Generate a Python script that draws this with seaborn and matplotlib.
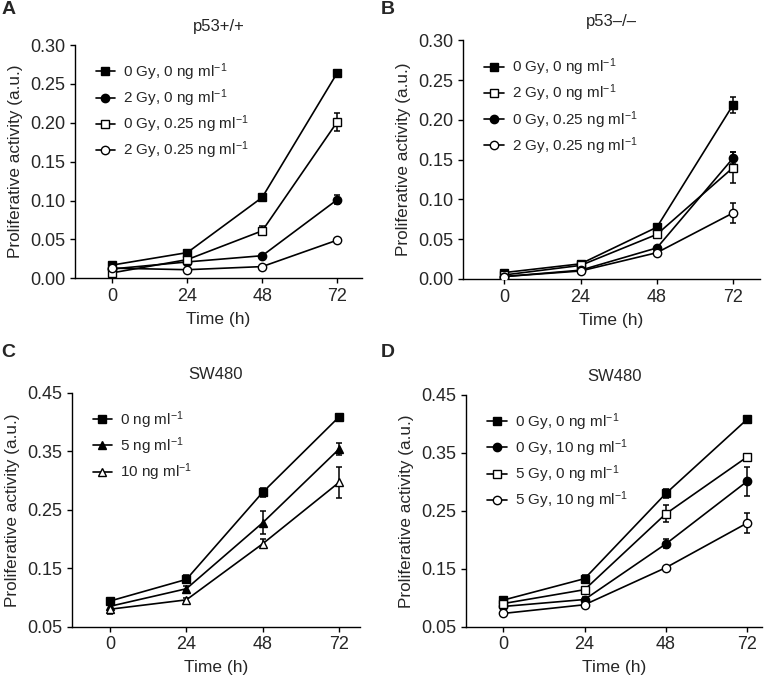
import numpy as np
import pandas as pd
import matplotlib
matplotlib.use("Agg")
import matplotlib.pyplot as plt
from matplotlib.ticker import FormatStrFormatter
import seaborn as sns

# data
time_h = [0, 24, 48, 72]

# panel A, p53+/+
a_labels = ["0 Gy, 0 ng ml$^{-1}$", "2 Gy, 0 ng ml$^{-1}$",
            "0 Gy, 0.25 ng ml$^{-1}$", "2 Gy, 0.25 ng ml$^{-1}$"]
a_means = [[0.017, 0.033, 0.104, 0.264],
           [0.012, 0.021, 0.029, 0.101],
           [0.007, 0.024, 0.061, 0.201],
           [0.013, 0.011, 0.015, 0.049]]
a_errs = [[0.002, 0.002, 0.005, 0.003],
          [0.001, 0.001, 0.002, 0.006],
          [0.001, 0.002, 0.006, 0.011],
          [0.001, 0.001, 0.002, 0.003]]

# panel B, p53-/-
b_labels = ["0 Gy, 0 ng ml$^{-1}$", "2 Gy, 0 ng ml$^{-1}$",
            "0 Gy, 0.25 ng ml$^{-1}$", "2 Gy, 0.25 ng ml$^{-1}$"]
b_means = [[0.008, 0.019, 0.065, 0.219],
           [0.005, 0.017, 0.056, 0.140],
           [0.003, 0.011, 0.039, 0.152],
           [0.003, 0.010, 0.033, 0.083]]
b_errs = [[0.001, 0.002, 0.003, 0.010],
          [0.001, 0.001, 0.004, 0.020],
          [0.001, 0.001, 0.003, 0.008],
          [0.001, 0.001, 0.002, 0.013]]

# panel C, SW480
c_labels = ["0 ng ml$^{-1}$", "5 ng ml$^{-1}$", "10 ng ml$^{-1}$"]
c_means = [[0.094, 0.131, 0.280, 0.409],
           [0.085, 0.115, 0.228, 0.354],
           [0.080, 0.096, 0.192, 0.297]]
c_errs = [[0.004, 0.007, 0.008, 0.005],
          [0.004, 0.004, 0.020, 0.010],
          [0.008, 0.003, 0.008, 0.027]]

# panel D, SW480
d_labels = ["0 Gy, 0 ng ml$^{-1}$", "0 Gy, 10 ng ml$^{-1}$",
            "5 Gy, 0 ng ml$^{-1}$", "5 Gy, 10 ng ml$^{-1}$"]
d_means = [[0.096, 0.133, 0.280, 0.408],
           [0.085, 0.097, 0.193, 0.301],
           [0.090, 0.114, 0.245, 0.343],
           [0.073, 0.088, 0.152, 0.229]]
d_errs = [[0.004, 0.007, 0.008, 0.005],
          [0.003, 0.004, 0.008, 0.025],
          [0.003, 0.004, 0.015, 0.003],
          [0.003, 0.004, 0.002, 0.017]]

sns.set_style("ticks")
plt.rcParams["font.family"] = ["Liberation Sans", "DejaVu Sans"]
plt.rcParams["mathtext.fontset"] = "custom"
plt.rcParams["mathtext.rm"] = "Liberation Sans"
plt.rcParams["mathtext.it"] = "Liberation Sans:italic"
plt.rcParams["mathtext.bf"] = "Liberation Sans:bold"

fig = plt.figure(figsize=(7.64, 6.82), dpi=100)


def panel(rect, title, labels, means, errs, styles, ylim, yticks, xlim):
    ax = fig.add_axes(rect)
    for lab, m, e, (mk, filled) in zip(labels, means, errs, styles):
        df = pd.DataFrame({"Time": time_h, "Value": m})
        ax.errorbar(time_h, m, yerr=e, fmt="none", ecolor="black",
                    elinewidth=1.1, capsize=2.5, capthick=1.1, zorder=1)
        sns.lineplot(data=df, x="Time", y="Value", ax=ax, color="black",
                     marker=mk, markersize=6, linewidth=1.2,
                     markerfacecolor="black" if filled else "white",
                     markeredgecolor="black", markeredgewidth=1.0,
                     label=lab, zorder=3)
    ax.set_xlim(*xlim)
    ax.set_ylim(*ylim)
    ax.set_xticks(time_h)
    ax.set_yticks(yticks)
    ax.yaxis.set_major_formatter(FormatStrFormatter("%.2f"))
    ax.set_xlabel("Time (h)", fontsize=12.5, labelpad=5)
    ax.set_ylabel("Proliferative activity (a.u.)", fontsize=12.3, labelpad=5)
    ax.set_title(title, fontsize=12, pad=10)
    ax.tick_params(labelsize=13, length=3.5, width=1, color="black", direction="out")
    for s in ["left", "bottom"]:
        ax.spines[s].set_linewidth(1.0)
        ax.spines[s].set_color("black")
    sns.despine(ax=ax)
    ax.legend(loc="upper left", bbox_to_anchor=(0.04, 0.97), frameon=False,
              fontsize=11, handlelength=1.3, handletextpad=0.5,
              labelspacing=0.3, borderaxespad=0.2)
    return ax


sq, sq_o, ci, ci_o = ("s", True), ("s", False), ("o", True), ("o", False)
tri, tri_o = ("^", True), ("^", False)

panel([0.098, 0.592, 0.376, 0.342], "p53+/+", a_labels, a_means, a_errs,
      [sq, ci, sq_o, ci_o], (0, 0.30), [0, 0.05, 0.10, 0.15, 0.20, 0.25, 0.30], (-12, 80))
panel([0.606, 0.591, 0.389, 0.350], "p53\u2013/\u2013", b_labels, b_means, b_errs,
      [sq, sq_o, ci, ci_o], (0, 0.30), [0, 0.05, 0.10, 0.15, 0.20, 0.25, 0.30], (-13, 80.5))
panel([0.094, 0.081, 0.377, 0.343], "SW480", c_labels, c_means, c_errs,
      [sq, tri, tri_o], (0.05, 0.45), [0.05, 0.15, 0.25, 0.35, 0.45], (-12, 78.5))
panel([0.610, 0.081, 0.388, 0.340], "SW480", d_labels, d_means, d_errs,
      [sq, ci, sq_o, ci_o], (0.05, 0.45), [0.05, 0.15, 0.25, 0.35, 0.45], (-11, 76.5))

for lx, ly, letter in [(0.002, 0.998, "A"), (0.498, 0.998, "B"),
                       (0.002, 0.495, "C"), (0.498, 0.495, "D")]:
    fig.text(lx, ly, letter, fontsize=14, fontweight="bold", va="top", ha="left")

fig.savefig("out.png", dpi=100)
